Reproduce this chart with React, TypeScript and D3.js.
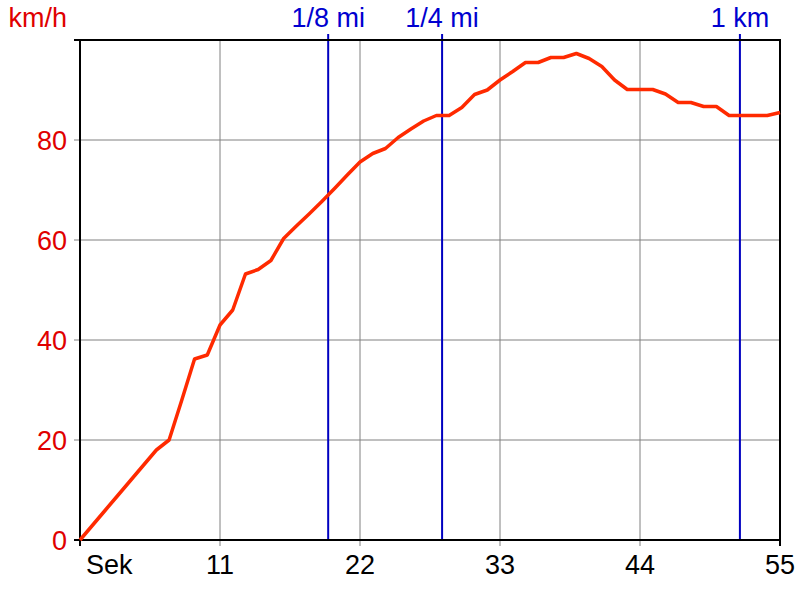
import React from "react";
import * as d3 from "d3";

const times = [0,1,2,3,4,5,6,7,8,9,10,11,12,13,14,15,16,17,18,19,20,21,22,23,24,25,26,27,28,29,30,31,32,33,34,35,36,37,38,39,40,41,42,43,44,45,46,47,48,49,50,51,52,53,54,55];
const speeds = [0,3,6,9,12,15,18,20,28,36.2,37,43,46,53.2,54.1,55.9,60.3,62.8,65.2,67.7,70.3,73,75.6,77.3,78.3,80.5,82.2,83.8,84.9,84.9,86.5,89.1,90,92,93.7,95.5,95.5,96.5,96.5,97.3,96.3,94.7,92,90.1,90.1,90.1,89.2,87.5,87.5,86.7,86.7,84.9,84.9,84.9,84.9,85.5];
const xTicks = [0, 11, 22, 33, 44, 55];
const xTickLabels = ["Sek", "11", "22", "33", "44", "55"];
const yTicks = [0, 20, 40, 60, 80];
const markerTimes = [19.5, 28.45, 51.85];
const markerLabels = ["1/8 mi", "1/4 mi", "1 km"];
const yUnit = "km/h";

const W = 800, H = 600;
const M = { left: 80, right: 780, top: 40, bottom: 540 };

export default function App() {
  const x = d3.scaleLinear().domain([0, 55]).range([M.left, M.right]);
  const y = d3.scaleLinear().domain([0, 100]).range([M.bottom, M.top]);
  const pts = times.map((t, i) => [t, speeds[i]] as [number, number]);
  const line = d3.line<[number, number]>().x(d => x(d[0])).y(d => y(d[1]));
  const font = "'Liberation Sans', Arial, sans-serif";
  return (
    <svg width={W} height={H} style={{ position: "absolute", left: 0, top: 0, background: "#fff" }} fontFamily={font}>
      <rect x={0} y={0} width={W} height={H} fill="#fff" />
      {/* grid */}
      {yTicks.filter(v => v > 0).map(v => (
        <line key={"gy" + v} x1={M.left - 6} x2={M.right} y1={y(v)} y2={y(v)} stroke="#808080" strokeWidth={1} />
      ))}
      {xTicks.filter(v => v > 0 && v < 55).map(v => (
        <line key={"gx" + v} x1={x(v)} x2={x(v)} y1={M.top} y2={M.bottom + 6} stroke="#808080" strokeWidth={1} />
      ))}
      {/* markers */}
      {markerTimes.map((t, i) => (
        <g key={"m" + i}>
          <line x1={x(t)} x2={x(t)} y1={34} y2={M.bottom} stroke="#0000c0" strokeWidth={2} />
          <text x={x(t)} y={27} textAnchor="middle" fontSize={27} fill="#0000d0">{markerLabels[i]}</text>
        </g>
      ))}
      {/* axes frame */}
      <line x1={M.left - 6} x2={M.right} y1={M.top} y2={M.top} stroke="#000" strokeWidth={2} />
      <line x1={M.left - 6} x2={M.right + 1} y1={M.bottom} y2={M.bottom} stroke="#000" strokeWidth={2} />
      <line x1={M.left} x2={M.left} y1={M.top - 1} y2={M.bottom + 6} stroke="#000" strokeWidth={2} />
      <line x1={M.right} x2={M.right} y1={M.top - 1} y2={M.bottom + 6} stroke="#000" strokeWidth={2} />
      {/* data line */}
      <path d={line(pts) || ""} fill="none" stroke="#ff2a00" strokeWidth={3.5} strokeLinejoin="round" />
      {/* y labels */}
      {yTicks.map(v => (
        <text key={"yl" + v} x={67} y={y(v) + 10} textAnchor="end" fontSize={27} fill="#e00000">{v}</text>
      ))}
      <text x={67} y={27} textAnchor="end" fontSize={27} fill="#e00000">{yUnit}</text>
      {/* x labels */}
      {xTicks.map((v, i) => (
        <text key={"xl" + v} x={i === 0 ? x(v) + 6 : x(v)} y={574} textAnchor={i === 0 ? "start" : "middle"} fontSize={27} fill="#000">{xTickLabels[i]}</text>
      ))}
    </svg>
  );
}
